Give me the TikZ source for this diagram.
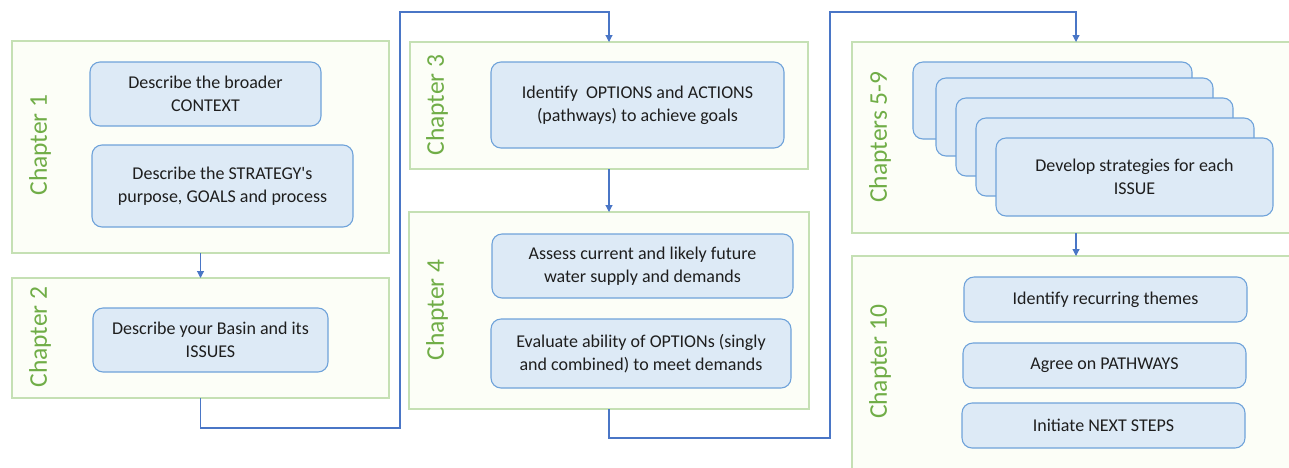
\documentclass[tikz,border=0pt]{standalone}
\usepackage{fontspec}
\setmainfont{Carlito}
\usetikzlibrary{arrows.meta}
\definecolor{frameline}{HTML}{C5E0B4}
\definecolor{framefill}{HTML}{FCFEF7}
\definecolor{boxline}{HTML}{6FA3DA}
\definecolor{boxfill}{HTML}{DDEAF6}
\definecolor{labelgreen}{HTML}{70AD47}
\definecolor{conncol}{HTML}{4A76C6}
\definecolor{txt}{HTML}{1E1E1E}
\begin{document}
\begin{tikzpicture}[x=1pt,y=-1pt,
 chapframe/.style={draw=frameline, fill=framefill, line width=1.3pt, anchor=north west, inner sep=0pt, outer sep=0pt},
 stepbox/.style={draw=boxline, fill=boxfill, line width=1.1pt, rounded corners=10pt, anchor=north west, inner sep=0pt, outer sep=0pt, align=center, text=txt, font=\fontsize{18}{23}\selectfont},
 chaplabel/.style={rotate=90, text=labelgreen, font=\fontsize{25.5}{30}\selectfont, inner sep=0pt},
 conn/.style={draw=conncol, line width=1.1pt, -{Triangle[length=7pt,width=7pt]}},
 ]
\useasboundingbox (0,0) rectangle (1289,467);
\clip (0,0) rectangle (1289,467);

% chapter frames
\node[chapframe, minimum width=377pt, minimum height=212pt] (c1) at (12,41) {};
\node[chapframe, minimum width=377pt, minimum height=120pt] (c2) at (12,278) {};
\node[chapframe, minimum width=398pt, minimum height=127pt] (c3) at (410,42) {};
\node[chapframe, minimum width=400pt, minimum height=197pt] (c4) at (409,212) {};
\node[chapframe, minimum width=448pt, minimum height=191pt] (c5) at (852,42) {};
\node[chapframe, minimum width=448pt, minimum height=230pt] (c6) at (852,256) {};

% chapter labels
\node[chaplabel] (l1) at (40,145) {Chapter 1};
\node[chaplabel] (l2) at (40,337) {Chapter 2};
\node[chaplabel] (l3) at (437,105) {Chapter 3};
\node[chaplabel] (l4) at (437,310) {Chapter 4};
\node[chaplabel] (l5) at (880,137) {Chapters 5-9};
\node[chaplabel] (l6) at (880,362) {Chapter 10};

% step boxes
\node[stepbox, minimum width=231pt, minimum height=64pt] (b1) at (90,62) {Describe the broader\\CONTEXT};
\node[stepbox, minimum width=261pt, minimum height=82pt] (b2) at (92,145) {Describe the STRATEGY\textquotesingle s\\purpose, GOALS and process};
\node[stepbox, minimum width=235pt, minimum height=64pt] (b3) at (93,308) {Describe your Basin and its\\ISSUES};
\node[stepbox, minimum width=293pt, minimum height=86pt] (b4) at (491,62) {Identify\ \ OPTIONS and ACTIONS\\(pathways) to achieve goals};
\node[stepbox, minimum width=301pt, minimum height=64pt] (b5) at (492,234) {Assess current and likely future\\water supply and demands};
\node[stepbox, minimum width=300pt, minimum height=69pt] (b6) at (491,319) {Evaluate ability of OPTIONs (singly\\and combined) to meet demands};

\node[stepbox, minimum width=279pt, minimum height=77pt] (s1) at (913,62) {};
\node[stepbox, minimum width=277pt, minimum height=78pt] (s2) at (936,78) {};
\node[stepbox, minimum width=277pt, minimum height=78pt] (s3) at (956,98) {};
\node[stepbox, minimum width=278pt, minimum height=78pt] (s4) at (976,118) {};
\node[stepbox, minimum width=277pt, minimum height=78pt] (s5) at (996,138) {Develop strategies for each\\ISSUE};

\node[stepbox, minimum width=283pt, minimum height=45pt] (b7) at (964,277) {Identify recurring themes};
\node[stepbox, minimum width=283pt, minimum height=45pt] (b8) at (963,343) {Agree on PATHWAYS};
\node[stepbox, minimum width=283pt, minimum height=45pt] (b9) at (962,403) {Initiate NEXT STEPS};

% connectors
\coordinate (t1) at (400,12);
\coordinate (t2) at (830,12);
\draw[conn] (c1.south) -- (c2.north);
\draw[conn] (c2.south) -- ++(0,30) -| (t1) -| (c3.north);
\draw[conn] (c3.south) -- (c4.north);
\draw[conn] (c4.south) -- ++(0,29) -| (t2) -| (c5.north);
\draw[conn] (c5.south) -- (c6.north);
\end{tikzpicture}
\end{document}
